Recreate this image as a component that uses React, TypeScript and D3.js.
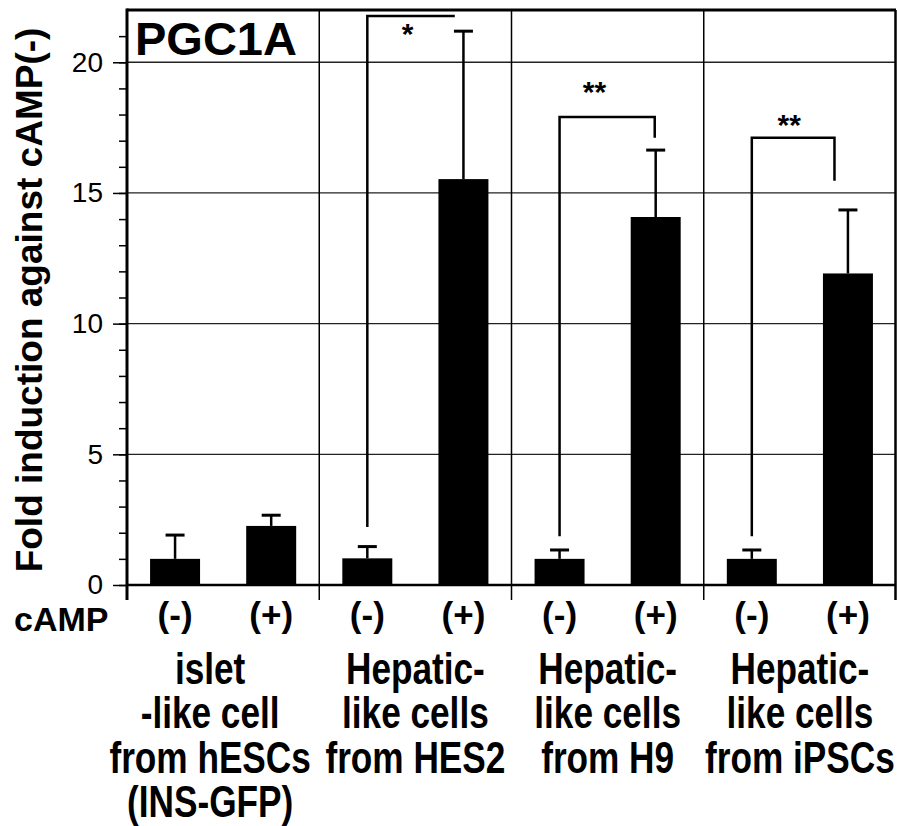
import * as d3 from "d3";
import React, { useEffect, useRef } from "react";

// groups along the x axis (label lines)
const groupLabels = [
  ["islet", "-like cell", "from hESCs", "(INS-GFP)"],
  ["Hepatic-", "like cells", "from HES2"],
  ["Hepatic-", "like cells", "from H9"],
  ["Hepatic-", "like cells", "from iPSCs"],
];
const conditions = ["(-)", "(+)"];

// fold induction, mean and SD
const minusMean = [1.0, 1.02, 1.0, 1.0];
const minusSD = [0.91, 0.45, 0.34, 0.34];
const plusMean = [2.26, 15.53, 14.08, 11.92];
const plusSD = [0.41, 5.66, 2.56, 2.43];

const majorTicks = [0, 5, 10, 15, 20];
const minorTicks = d3.range(0, 22);

// significance brackets
const sigGroup = [1, 2, 3];
const sigLeftFoot = [2.22, 1.87, 1.87];
const sigTop = [21.77, 17.91, 17.11];
const sigRightFoot = [21.77, 17.11, 15.47];
const sigRightEnd = [0.705, 0.745, 0.68]; // fraction of group width
const sigStars = ["*", "**", "**"];
const sigStarY = [21.19, 18.97, 17.71];
const sigStarX = [0.46, 0.432, 0.445];

const FONT = "'Liberation Sans', Arial, Helvetica, sans-serif";

export default function App() {
  const svgRef = useRef<SVGSVGElement>(null);
  const boxWidth = 897;
  const boxHeight = 826;

  useEffect(() => {
    document.body.style.margin = "0";
    const svg = d3.select(svgRef.current).attr("width", boxWidth).attr("height", boxHeight);
    svg.selectAll("*").remove();

    const left = 127;
    const right = 896;
    const top = 10;
    const bottom = 585;

    const x = d3.scaleBand<number>().domain(d3.range(groupLabels.length)).range([left, right]);
    const inner = d3
      .scaleBand<string>()
      .domain(conditions)
      .range([0, x.bandwidth()])
      .paddingInner(0.48)
      .paddingOuter(0.24);
    const y = d3.scaleLinear().domain([0, 22]).range([bottom, top]);

    const means = [minusMean, plusMean];
    const sds = [minusSD, plusSD];
    const bars = groupLabels.flatMap((_, g) =>
      conditions.map((c, k) => ({ g, c, mean: means[k][g], sd: sds[k][g] }))
    );

    // horizontal grid
    svg
      .append("g")
      .selectAll("line")
      .data(majorTicks.filter((d) => d > 0))
      .enter()
      .append("line")
      .attr("x1", left)
      .attr("x2", right)
      .attr("y1", (d) => y(d))
      .attr("y2", (d) => y(d))
      .attr("stroke", "#222")
      .attr("stroke-width", 1.3);

    // group separators
    svg
      .append("g")
      .selectAll("line")
      .data(d3.range(1, groupLabels.length))
      .enter()
      .append("line")
      .attr("x1", (d) => x(d)!)
      .attr("x2", (d) => x(d)!)
      .attr("y1", top)
      .attr("y2", bottom + 15)
      .attr("stroke", "#000")
      .attr("stroke-width", 1.5);

    // bars
    svg
      .append("g")
      .selectAll("rect")
      .data(bars)
      .enter()
      .append("rect")
      .attr("x", (d) => x(d.g)! + inner(d.c)!)
      .attr("width", inner.bandwidth())
      .attr("y", (d) => y(d.mean))
      .attr("height", (d) => y(0) - y(d.mean))
      .attr("fill", "#000");

    // error bars
    const eb = svg.append("g").attr("stroke", "#000").attr("stroke-width", 2.5);
    bars.forEach((d) => {
      const cx = x(d.g)! + inner(d.c)! + inner.bandwidth() / 2;
      eb.append("line").attr("x1", cx).attr("x2", cx).attr("y1", y(d.mean)).attr("y2", y(d.mean + d.sd));
      eb.append("line")
        .attr("x1", cx - 9.5)
        .attr("x2", cx + 9.5)
        .attr("y1", y(d.mean + d.sd))
        .attr("y2", y(d.mean + d.sd))
        .attr("stroke-width", 3);
    });

    // frame
    const frame = svg.append("g").attr("stroke", "#000");
    frame.append("line").attr("x1", left).attr("x2", right).attr("y1", top).attr("y2", top).attr("stroke-width", 3);
    frame.append("line").attr("x1", left).attr("x2", right).attr("y1", y(0)).attr("y2", y(0)).attr("stroke-width", 2.5);
    frame.append("line").attr("x1", right - 0.5).attr("x2", right - 0.5).attr("y1", top).attr("y2", bottom + 15).attr("stroke-width", 2.5);

    // y axis
    const yAxisMinor = svg
      .append("g")
      .attr("transform", `translate(${left},0)`)
      .call(d3.axisLeft(y).tickValues(minorTicks).tickSize(8).tickFormat(() => ""));
    yAxisMinor.select(".domain").remove();
    yAxisMinor.selectAll("line").attr("stroke-width", 1.5);

    const yAxis = svg
      .append("g")
      .attr("transform", `translate(${left},0)`)
      .call(d3.axisLeft(y).tickValues(majorTicks).tickSize(14).tickPadding(10));
    yAxis.select(".domain").remove();
    yAxis.selectAll("line").attr("stroke-width", 1.5);
    yAxis.selectAll("text").attr("font-family", FONT).attr("font-size", 28).attr("fill", "#000");

    svg
      .append("line")
      .attr("x1", left)
      .attr("x2", left)
      .attr("y1", top - 1.5)
      .attr("y2", bottom + 15)
      .attr("stroke", "#000")
      .attr("stroke-width", 3);

    // significance brackets
    const sg = svg.append("g");
    sigGroup.forEach((g, i) => {
      const x0 = x(g)! + inner("(-)")! + inner.bandwidth() / 2;
      const x1 = x(g)! + x.bandwidth() * sigRightEnd[i];
      const pts: [number, number][] = [
        [x0, y(sigLeftFoot[i])],
        [x0, y(sigTop[i])],
        [x1, y(sigTop[i])],
        [x1, y(sigRightFoot[i])],
      ];
      sg.append("path")
        .attr("d", d3.line()(pts))
        .attr("fill", "none")
        .attr("stroke", "#000")
        .attr("stroke-width", 2.5);
      sg.append("text")
        .attr("x", x(g)! + x.bandwidth() * sigStarX[i])
        .attr("y", y(sigStarY[i]) + 13)
        .attr("text-anchor", "middle")
        .attr("font-family", FONT)
        .attr("font-weight", "bold")
        .attr("font-size", 30)
        .text(sigStars[i]);
    });

    // title
    svg
      .append("text")
      .attr("x", 135)
      .attr("y", 55)
      .attr("font-family", FONT)
      .attr("font-weight", "bold")
      .attr("font-size", 47)
      .text("PGC1A");

    // y label
    svg
      .append("text")
      .attr("transform", "translate(42,300) rotate(-90)")
      .attr("text-anchor", "middle")
      .attr("font-family", FONT)
      .attr("font-weight", "bold")
      .attr("font-size", 37)
      .text("Fold induction against cAMP(-)");

    // cAMP row
    svg
      .append("text")
      .attr("x", 14)
      .attr("y", 631)
      .attr("font-family", FONT)
      .attr("font-weight", "bold")
      .attr("font-size", 34)
      .text("cAMP");
    svg
      .append("g")
      .selectAll("text")
      .data(bars)
      .enter()
      .append("text")
      .attr("x", (d) => x(d.g)! + inner(d.c)! + inner.bandwidth() / 2)
      .attr("y", 627)
      .attr("text-anchor", "middle")
      .attr("font-family", FONT)
      .attr("font-weight", "bold")
      .attr("font-size", 35)
      .text((d) => d.c);

    // group labels
    const labelShift = [-13, 0, 0, 0];
    groupLabels.forEach((lines, g) => {
      const cx = x(g)! + x.bandwidth() / 2 + labelShift[g];
      const t = svg
        .append("g")
        .attr("transform", `translate(${cx},0) scale(0.8,1)`)
        .append("text")
        .attr("text-anchor", "middle")
        .attr("font-family", FONT)
        .attr("font-weight", "bold")
        .attr("font-size", 44);
      lines.forEach((line, i) => {
        t.append("tspan").attr("x", 0).attr("y", 684 + i * 44.5).text(line);
      });
    });
  }, []);

  return (
    <div style={{ width: boxWidth, height: boxHeight }}>
      <svg ref={svgRef} style={{ display: "block" }}></svg>
    </div>
  );
}
